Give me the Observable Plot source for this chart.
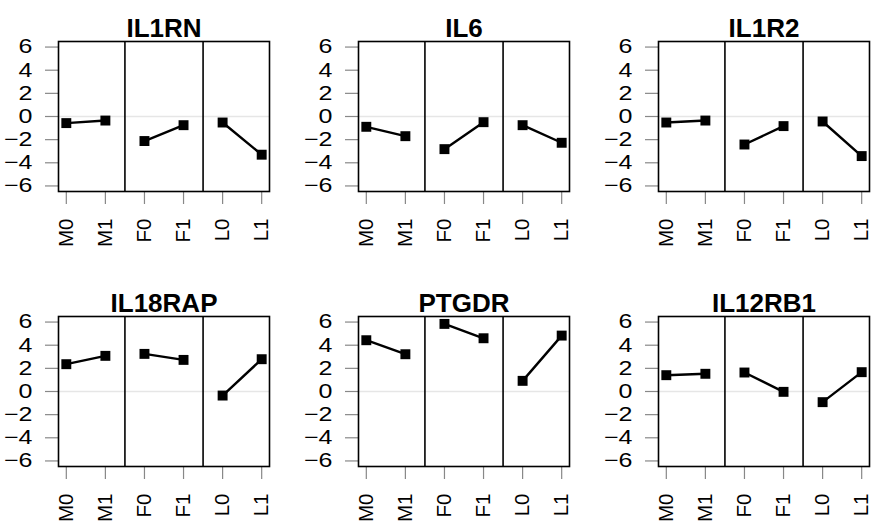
<!DOCTYPE html>
<html>
<head>
<meta charset="utf-8">
<script src="https://cdn.jsdelivr.net/npm/d3@7"></script>
<script src="https://cdn.jsdelivr.net/npm/@observablehq/plot@0.6"></script>
<style>
  html, body { margin: 0; padding: 0; background: #fff; }
  #root { position: relative; width: 873px; height: 528px; overflow: hidden; background: #fff; }
  #root svg { position: absolute; background: transparent; overflow: visible; }
</style>
</head>
<body>
<div id="root"></div>
<script>
// ---- data ----
const categories = ["M0", "M1", "F0", "F1", "L0", "L1"];
const groups = ["M", "M", "F", "F", "L", "L"];
const yTicks = [-6, -4, -2, 0, 2, 4, 6];
const genes = ["IL1RN", "IL6", "IL1R2", "IL18RAP", "PTGDR", "IL12RB1"];
const IL1RN   = [-0.57, -0.35, -2.12, -0.75, -0.52, -3.3];
const IL6     = [-0.89, -1.70, -2.82, -0.49, -0.75, -2.27];
const IL1R2   = [-0.52, -0.35, -2.42, -0.83, -0.43, -3.42];
const IL18RAP = [2.36, 3.08, 3.25, 2.73, -0.35, 2.79];
const PTGDR   = [4.43, 3.22, 5.84, 4.60, 0.92, 4.83];
const IL12RB1 = [1.41, 1.53, 1.64, -0.03, -0.92, 1.67];
const seriesByGene = {IL1RN, IL6, IL1R2, IL18RAP, PTGDR, IL12RB1};

// ---- layout ----
const colLeft = [0.3, 300.3, 600];
const rowTop = [0, 275];
const mL = 58, mT = 41, plotW = 211, plotH = 150, mR = 3, mB = 70;

const root = document.getElementById("root");
const boundaries = [];
for (let i = 1; i < groups.length; i++) if (groups[i] !== groups[i - 1]) boundaries.push(i + 0.5);

function stretch(svg, selector, sx, sy) {
  svg.querySelectorAll(selector).forEach(t => {
    const tr = t.getAttribute("transform") || "";
    t.setAttribute("transform", tr + ` scale(${sx},${sy})`);
  });
}

genes.forEach((gene, k) => {
  const r = Math.floor(k / 3), c = k % 3;
  const vals = seriesByGene[gene];
  const data = categories.map((cat, i) => ({i: i + 1, cat, group: groups[i], v: vals[i]}));
  const chart = Plot.plot({
    width: mL + plotW + mR,
    height: mT + plotH + mB,
    marginLeft: mL, marginTop: mT, marginRight: mR, marginBottom: mB,
    style: {fontFamily: "'Liberation Sans', Arial, Helvetica, sans-serif", fontSize: "20px", color: "black", background: "transparent", overflow: "visible"},
    x: {type: "linear", domain: [0.8, 6.2], axis: null},
    y: {type: "linear", domain: [-6.48, 6.48], axis: null},
    marks: [
      Plot.ruleY([0], {stroke: "#e6e6e6", strokeWidth: 1.5}),
      Plot.ruleX(boundaries, {stroke: "black", strokeWidth: 1.6}),
      Plot.axisY({ticks: yTicks, label: null, tickSize: 13, tickPadding: 13, fontSize: 20, stroke: "#888", fill: "black", strokeWidth: 1.2}),
      Plot.axisX({ticks: d3.range(1, categories.length + 1), label: null, tickFormat: d => categories[d - 1], tickRotate: -90, tickSize: 13, tickPadding: 14, fontSize: 20.5, stroke: "#888", fill: "black", strokeWidth: 1.2}),
      Plot.line(data, {x: "i", y: "v", z: "group", stroke: "black", strokeWidth: 2.4}),
      Plot.dot(data, {x: "i", y: "v", symbol: "square", fill: "black", stroke: null, r: 5.6}),
      Plot.frame({stroke: "black", strokeWidth: 1.6}),
      Plot.text([gene], {frameAnchor: "top", dy: -23, text: d => d, fontSize: 26, fontWeight: "bold", fill: "black", ariaLabel: "title"})
    ]
  });
  stretch(chart, 'g[aria-label="y-axis tick label"] text', 1.25, 1);
  stretch(chart, 'g[aria-label="title"] text', 1.06, 1);
  chart.style.left = (colLeft[c]) + "px";
  chart.style.top = (rowTop[r]) + "px";
  root.appendChild(chart);
});
</script>
</body>
</html>
